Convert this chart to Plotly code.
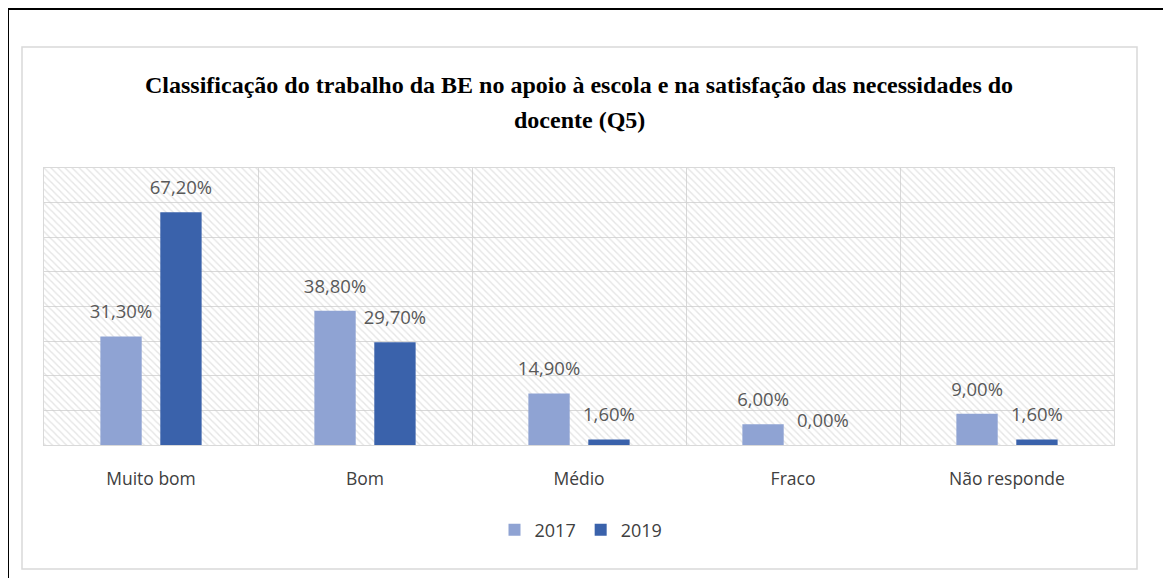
import plotly.graph_objects as go

categories = ["Muito bom", "Bom", "Médio", "Fraco", "Não responde"]
series_names = ["2017", "2019"]
values_2017 = [31.3, 38.8, 14.9, 6.0, 9.0]
values_2019 = [67.2, 29.7, 1.6, 0.0, 1.6]
title_line1 = "Classificação do trabalho da BE no apoio à escola e na satisfação das necessidades do"
title_line2 = "docente (Q5)"

colors = ["#8FA3D3", "#3A62AB"]
FONT = "Open Sans, Lato, sans-serif"
label_font = dict(family=FONT, size=18.5, color="#595959")

W, H = 1163, 570
L, R, T, B = 36, 57, 160, 133
PW, PH = W - L - R, H - T - B
GAP = 0.44


def px(x):
    return (x - L) / PW


def py(y):
    return (H - B - y) / PH


def fmt(v):
    return f"{v:.2f}%".replace(".", ",")


fig = go.Figure()

# hatched plot-area background (decoration on hidden base axes)
fig.add_trace(go.Bar(
    x=[0.5], y=[1], width=[1], xaxis="x", yaxis="y",
    marker=dict(color="rgba(0,0,0,0)", line=dict(width=0),
                pattern=dict(shape="\\", fgcolor="#cccccc", size=5, solidity=0.28,
                             fillmode="overlay")),
    showlegend=False, hoverinfo="skip",
))

for name, vals, col in zip(series_names, [values_2017, values_2019], colors):
    fig.add_trace(go.Bar(
        x=categories, y=vals, name=name, xaxis="x2", yaxis="y2",
        marker=dict(color=col, line=dict(width=0)),
        offsetgroup=name, hoverinfo="x+y",
    ))

# value labels
for name, vals in zip(series_names, [values_2017, values_2019]):
    fig.add_trace(go.Scatter(
        x=categories, y=vals, xaxis="x2", yaxis="y2",
        mode="markers+text", offsetgroup=name,
        marker=dict(size=20, color="rgba(0,0,0,0)"),
        text=[fmt(v) for v in vals], textposition="top center",
        textfont=label_font, cliponaxis=False,
        showlegend=False, hoverinfo="skip",
    ))

fig.update_layout(
    width=W, height=H,
    margin=dict(l=L, r=R, t=T, b=B),
    paper_bgcolor="white", plot_bgcolor="white",
    barmode="group", bargap=GAP, bargroupgap=0.31,
    scattermode="group", scattergap=GAP,
    showlegend=True,
    legend=dict(orientation="h", x=px(573), xanchor="center", y=py(522), yanchor="middle",
                font=dict(family=FONT, size=18, color="#404040"),
                itemwidth=30, traceorder="normal"),
    xaxis=dict(range=[0, 1], visible=False, fixedrange=True),
    yaxis=dict(range=[0, 1], visible=False, fixedrange=True),
    xaxis2=dict(overlaying="x", side="bottom", type="category",
                showgrid=True, gridcolor="#d9d9d9", gridwidth=1, tickson="boundaries",
                ticks="", showline=True, linecolor="#d9d9d9", linewidth=1, mirror=True,
                tickfont=dict(family=FONT, size=17.5, color="#404040"),
                ticklabelstandoff=18),
    yaxis2=dict(overlaying="y", side="left", range=[0, 80], dtick=10,
                showgrid=True, gridcolor="#d9d9d9", gridwidth=1,
                showticklabels=False, ticks="", zeroline=False,
                showline=True, linecolor="#d9d9d9", linewidth=1, mirror=True),
    annotations=[
        dict(text=title_line1, xref="paper", yref="paper", x=px(571), y=py(77),
             xanchor="center", yanchor="middle", showarrow=False,
             font=dict(family="Liberation Serif, serif", size=24, color="#000000", weight="bold")),
        dict(text=title_line2, xref="paper", yref="paper", x=px(571), y=py(112),
             xanchor="center", yanchor="middle", showarrow=False,
             font=dict(family="Liberation Serif, serif", size=24, color="#000000", weight="bold")),
    ],
    shapes=[
        dict(type="rect", xref="paper", yref="paper",
             x0=px(0), x1=px(1160), y0=py(600), y1=py(1),
             line=dict(color="#000000", width=2), layer="below"),
        dict(type="rect", xref="paper", yref="paper",
             x0=px(14), x1=px(1129), y0=py(561), y1=py(39),
             line=dict(color="#d9d9d9", width=1.5), layer="below"),
    ],
)

fig.write_html("out.html")
